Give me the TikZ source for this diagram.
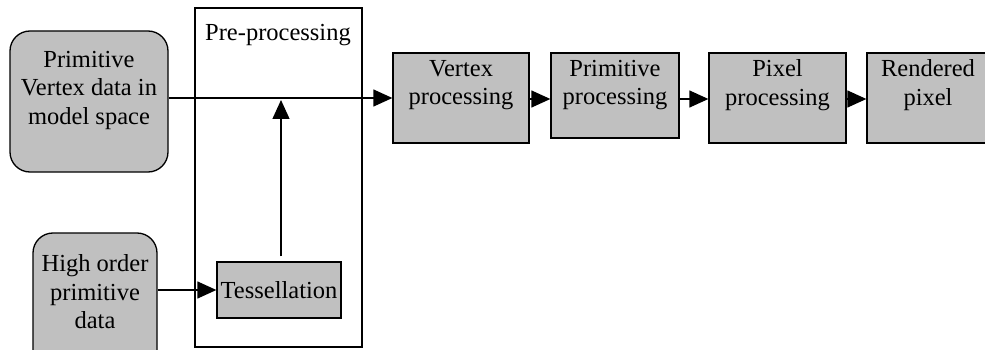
\documentclass[tikz,border=0pt]{standalone}
\usepackage{fontspec}
\setmainfont{LiberationSerif}[Extension=.ttf, UprightFont=*-Regular, BoldFont=*-Bold]
\usetikzlibrary{arrows.meta}
\definecolor{boxgray}{HTML}{C0C0C0}
\begin{document}
\begin{tikzpicture}[x=1pt,y=-1pt,
  box/.style={draw=black, line width=1.3pt, fill=boxgray, inner sep=0pt},
  frame/.style={draw=black, line width=1.3pt, inner sep=0pt},
  lbl/.style={font=\fontsize{24.5}{28.5}\selectfont, align=center, inner sep=0pt},
  flow/.style={line width=1.3pt, -{Triangle[length=19pt,width=17pt]}},
]
\useasboundingbox (0,0) rectangle (985,350);

% pre-processing stage frame
\node[frame, minimum width=167pt, minimum height=339pt] (pre) at (278.5,177.5) {};
\node[lbl] (prelbl) at (278,35) {Pre-processing};

% input data
\node[box, rounded corners=20pt, minimum width=158pt, minimum height=141pt] (src) at (89,101.5) {};
\node[lbl] (srclbl) at (89,90) {Primitive\\Vertex data in\\model space};
\node[box, rounded corners=20pt, minimum width=124pt, minimum height=147pt] (hi) at (95,306.5) {};
\node[lbl] (hilbl) at (95,292) {High order\\primitive\\data};

% tessellation
\node[box, minimum width=124pt, minimum height=56pt] (tess) at (279,290) {};
\node[lbl] (tesslbl) at (279,290) {Tessellation};

% pipeline stages
\node[box, minimum width=136pt, minimum height=90pt] (vtx) at (461,98) {};
\node[lbl] (vtxlbl) at (461,85) {Vertex\\processing};
\node[box, minimum width=128pt, minimum height=85pt] (prim) at (615,95.5) {};
\node[lbl] (primlbl) at (615,85) {Primitive\\processing};
\node[box, minimum width=137pt, minimum height=90pt] (pix) at (777.5,98) {};
\node[lbl] (pixlbl) at (777.5,85) {Pixel\\processing};
\node[box, minimum width=124pt, minimum height=90pt] (ren) at (929,98) {};
\node[lbl] (renlbl) at (928,85) {Rendered\\pixel};

% connectors
\draw[flow] (src.east |- vtx.west) -- (vtx.west);
\draw[flow] ([xshift=2pt,yshift=5pt]tess.north) -- ([xshift=2pt,yshift=-2pt]tess.north |- vtx.west);
\draw[flow] (hi.east |- tess.west) -- (tess.west);
\draw[flow] ([yshift=-1pt]vtx.east) -- ([yshift=-1pt]vtx.east -| prim.west);
\draw[flow] ([yshift=-1pt]prim.east |- vtx.east) -- ([yshift=-1pt]vtx.east -| pix.west);
\draw[flow] ([yshift=-1pt]pix.east) -- ([yshift=-1pt]pix.east -| ren.west);
\end{tikzpicture}
\end{document}
